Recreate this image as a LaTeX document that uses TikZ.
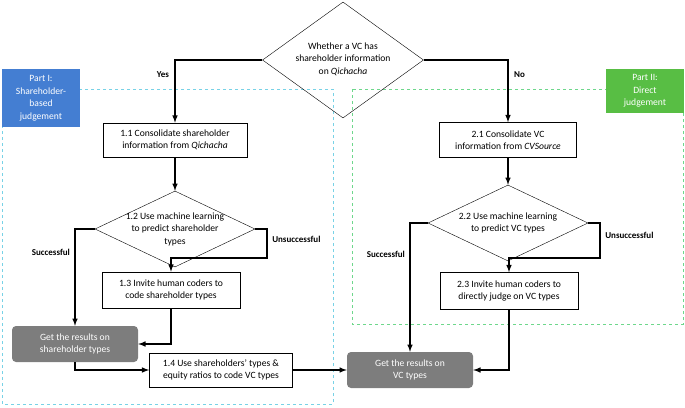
\documentclass[tikz,border=0pt]{standalone}
\usepackage{fontspec}
\setmainfont{Carlito}
\usetikzlibrary{shapes.geometric}
\definecolor{partblue}{RGB}{68,126,210}
\definecolor{partgreen}{RGB}{88,190,68}
\definecolor{stepgray}{RGB}{125,125,125}
\definecolor{dashcyan}{RGB}{120,210,230}
\definecolor{dashgreen}{RGB}{110,215,140}
\tikzset{
  stepbox/.style={draw, semithick, fill=white, align=center, inner sep=1pt},
  result/.style={fill=stepgray, rounded corners=4pt, text=white, align=center},
  dia/.style={draw, diamond, inner sep=0pt},
  part/.style={text=white, align=center},
  flow/.style={line width=1.5pt, -latex},
  lab/.style={font=\bfseries\fontsize{9}{10}\selectfont},
}
\begin{document}
\begin{tikzpicture}[x=1pt, y=-1pt, font=\fontsize{9.6}{12.5}\selectfont]
\useasboundingbox (0,0) rectangle (685,407);
% dashed part frames
\draw[dashed, dashcyan] (2,89) rectangle (333,404);
\draw[dashed, dashgreen] (352,89) rectangle (683,324);
\node[part, fill=partblue, minimum width=78pt, minimum height=58pt] (p1) at (41,98) {Part I:\\Shareholder-\\based\\judgement};
\node[part, fill=partgreen, minimum width=78pt, minimum height=44pt] (p2) at (645,91) {Part II:\\Direct\\judgement};
% decision at top
\node[dia, minimum width=161pt, minimum height=116pt] (d0) at (343,60) {};
\node[align=center] (t0) at (343,59) {Whether a VC has\\shareholder information\\on \textit{Qichacha}};
% part I
\node[stepbox, minimum width=144pt, minimum height=34pt] (s11) at (175,140) {1.1 Consolidate shareholder\\information from \textit{Qichacha}};
\node[dia, minimum width=160pt, minimum height=76pt] (d12) at (175,229) {};
\node[align=center] (t12) at (175,229) {1.2 Use machine learning\\to predict shareholder\\types};
\node[stepbox, minimum width=138pt, minimum height=36pt] (s13) at (171,290) {1.3 Invite human coders to\\code shareholder types};
\node[result, minimum width=126pt, minimum height=36pt] (r1) at (75,344) {Get the results on\\shareholder types};
\node[stepbox, minimum width=143pt, minimum height=34pt] (s14) at (221,370) {1.4 Use shareholders’ types \&\\equity ratios to code VC types};
% part II
\node[stepbox, minimum width=137pt, minimum height=35pt] (s21) at (508,140) {2.1 Consolidate VC\\information from \textit{CVSource}};
\node[dia, minimum width=160pt, minimum height=76pt] (d22) at (508,223) {};
\node[align=center] (t22) at (508,223) {2.2 Use machine learning\\to predict VC types};
\node[stepbox, minimum width=138pt, minimum height=37pt] (s23) at (509,291) {2.3 Invite human coders to\\directly judge on VC types};
\node[result, minimum width=126pt, minimum height=36pt] (r2) at (410,370) {Get the results on\\VC types};
% connectors
\draw[flow] (d0.west) -| node[lab, pos=0.62, left=2pt] {Yes} (s11.north);
\draw[flow] (d0.east) -| node[lab, pos=0.62, right=2pt] {No} (s21.north);
\draw[flow] (s11) -- (d12.north);
\draw[flow] (s21) -- (d22.north);
\draw[flow] (d12.west) -| node[lab, pos=0.62, left=1pt] {Successful} (r1.north);
\draw[flow] (d12.east) -- ++(12,0) -- node[lab, pos=0.35, right=1pt] {Unsuccessful} ++(0,29) -| (s13.north);
\draw[flow] (s13.south) |- (r1.east);
\draw[flow] (r1.south) |- (s14.west);
\draw[flow] (s14) -- (r2);
\draw[flow] (d22.west) -| node[lab, pos=0.62, left=1pt] {Successful} (r2.north);
\draw[flow] (d22.east) -- ++(12,0) -- node[lab, pos=0.35, right=1pt] {Unsuccessful} ++(0,35) -| (s23.north);
\draw[flow] (s23.south) |- (r2.east);
\end{tikzpicture}
\end{document}
